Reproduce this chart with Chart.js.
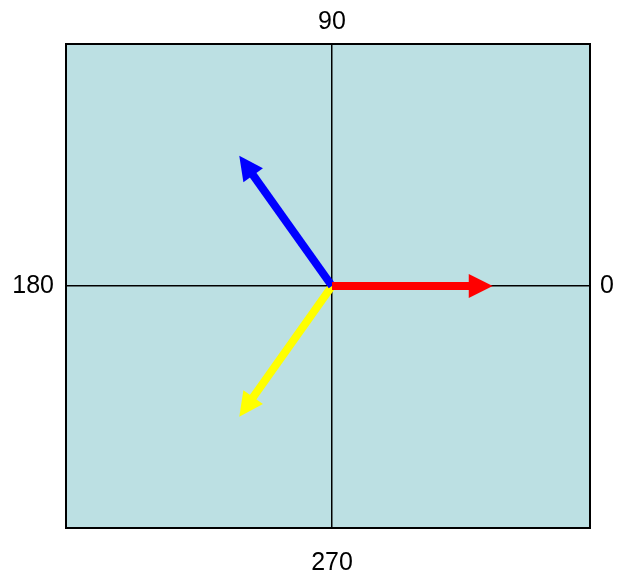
<!DOCTYPE html>
<html>
<head>
<meta charset="utf-8">
<script src="https://cdn.jsdelivr.net/npm/chart.js@4"></script>
<style>
html, body { margin: 0; padding: 0; background: #fff; }
#wrap { width: 618px; height: 574px; position: relative; }
</style>
</head>
<body>
<div id="wrap"><canvas id="chart"></canvas></div>
<script>
// phasor tips (unit-ish vectors), all starting at the origin
const phases = ['A', 'B', 'C'];
const tipX = [1.0, -0.577, -0.577];
const tipY = [0, 0.808, -0.81];
const phaseColors = ['#ff0000', '#0000ff', '#ffff00'];

// angle labels: right, top, left, bottom
const angleLabels = ['0', '90', '180', '270'];

const xRange = [-1.655, 1.605];
const yRange = [-1.5, 1.5];

const labelFont = { family: "'Liberation Sans', Arial, sans-serif", size: 25 };

const arrows = {
    id: 'arrows',
    beforeDraw(chart) {
        const { ctx, chartArea: a } = chart;
        ctx.save();
        ctx.fillStyle = '#bce0e3';
        ctx.fillRect(a.left, a.top, a.right - a.left, a.bottom - a.top);
        ctx.restore();
    },
    afterDatasetsDraw(chart) {
        const ctx = chart.ctx;
        for (let i = chart.data.datasets.length - 1; i >= 0; i--) {
            const ds = chart.data.datasets[i];
            const pts = chart.getDatasetMeta(i).data;
            const p0 = pts[0], p1 = pts[1];
            const dx = p1.x - p0.x, dy = p1.y - p0.y;
            const len = Math.hypot(dx, dy);
            const ux = dx / len, uy = dy / len;
            const headLen = 24, headHalf = 12;
            const bx = p1.x - ux * headLen, by = p1.y - uy * headLen;
            ctx.save();
            ctx.strokeStyle = ds.borderColor;
            ctx.fillStyle = ds.borderColor;
            ctx.lineWidth = 8;
            ctx.lineCap = 'butt';
            ctx.beginPath();
            ctx.moveTo(p0.x, p0.y);
            ctx.lineTo(bx + ux * 2, by + uy * 2);
            ctx.stroke();
            ctx.beginPath();
            ctx.moveTo(p1.x, p1.y);
            ctx.lineTo(bx - uy * headHalf, by + ux * headHalf);
            ctx.lineTo(bx + uy * headHalf, by - ux * headHalf);
            ctx.closePath();
            ctx.fill();
            ctx.restore();
        }
    },
    afterDraw(chart) {
        const { ctx, chartArea: a } = chart;
        ctx.save();
        ctx.strokeStyle = '#000';
        ctx.lineWidth = 2;
        ctx.strokeRect(a.left, a.top, a.right - a.left, a.bottom - a.top);
        ctx.restore();
    }
};

const zeroTick = s => { s.ticks = [{ value: 0 }]; };

function axis(position, label, pad, size, showGrid) {
    const horiz = position === 'top' || position === 'bottom';
    return {
        type: 'linear',
        axis: horiz ? 'x' : 'y',
        position,
        min: horiz ? xRange[0] : yRange[0],
        max: horiz ? xRange[1] : yRange[1],
        afterBuildTicks: zeroTick,
        afterFit: s => { if (horiz) s.height = size; else s.width = size; },
        ticks: { callback: () => label, font: labelFont, color: '#000', padding: pad, maxRotation: 0, autoSkip: false },
        grid: { display: showGrid, color: '#000', lineWidth: 1.5, drawTicks: false },
        border: { display: false }
    };
}

new Chart(document.getElementById('chart'), {
    type: 'scatter',
    data: {
        datasets: phases.map((p, i) => ({
            label: p,
            data: [{ x: 0, y: 0 }, { x: tipX[i], y: tipY[i] }],
            borderColor: phaseColors[i],
            backgroundColor: phaseColors[i],
            showLine: false,
            pointRadius: 0,
            xAxisID: 'x',
            yAxisID: 'y'
        }))
    },
    options: {
        responsive: true,
        maintainAspectRatio: false,
        animation: false,
        layout: { padding: 0 },
        plugins: { legend: { display: false }, tooltip: { enabled: false } },
        scales: {
            x: axis('bottom', angleLabels[3], 20, 46, true),
            x2: axis('top', angleLabels[1], 7, 44, false),
            y: axis('left', angleLabels[2], 12, 66, true),
            y2: axis('right', angleLabels[0], 10, 28, false)
        }
    },
    plugins: [arrows]
});
</script>
</body>
</html>
